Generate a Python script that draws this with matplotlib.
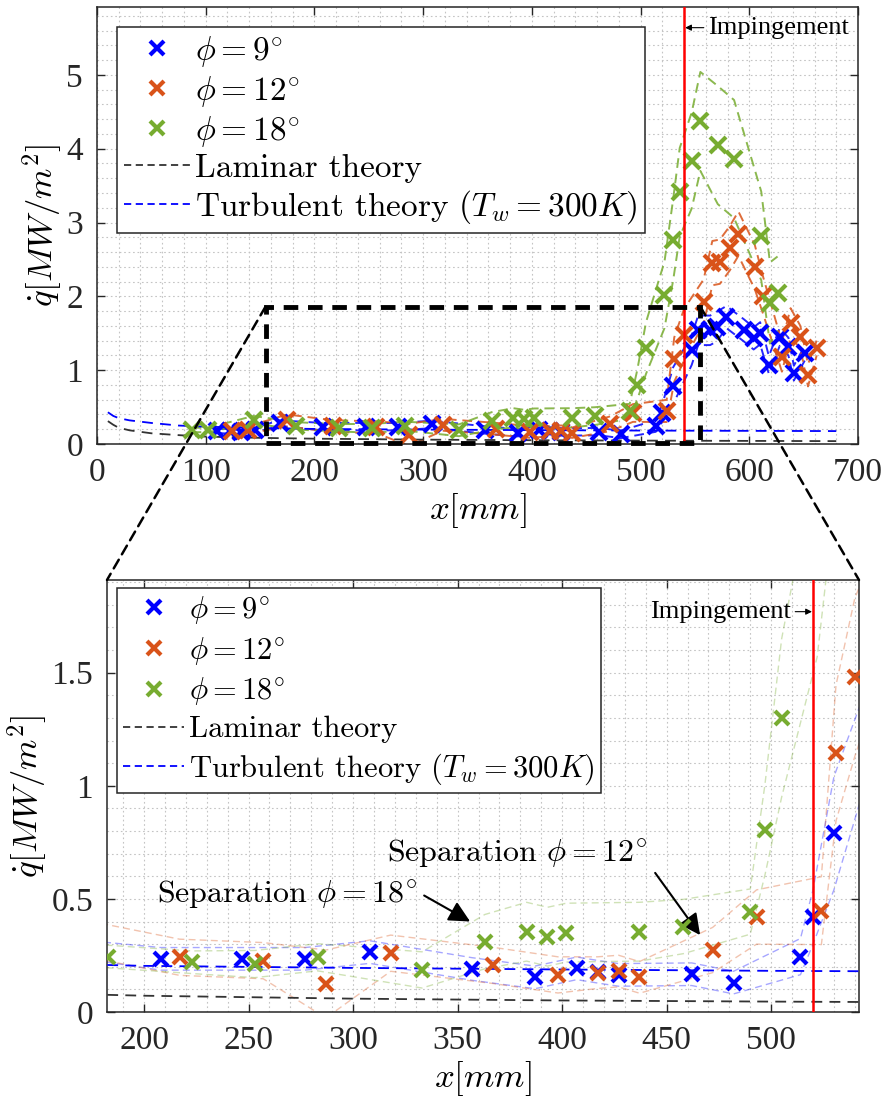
import numpy as np
import matplotlib
matplotlib.use("Agg")
import matplotlib.pyplot as plt
from matplotlib.patches import Rectangle, ConnectionPatch
from matplotlib.lines import Line2D
from matplotlib.ticker import MultipleLocator

plt.rcParams['font.family'] = 'serif'
plt.rcParams['font.serif'] = ['Liberation Serif', 'DejaVu Serif']
plt.rcParams['mathtext.fontset'] = 'cm'

# phi = 9 deg
x_9 = [110, 122, 132, 145, 168, 208, 247, 277, 308, 357, 387, 407, 417, 427, 462, 482,
       514, 520, 530, 547, 553, 564, 570, 579, 595, 604, 610, 618, 628, 636, 641, 651]
q_9 = [0.18, 0.17, 0.16, 0.19, 0.28, 0.235, 0.235, 0.235, 0.265, 0.19, 0.153, 0.193, 0.178, 0.164, 0.167, 0.13,
       0.245, 0.42, 0.79, 1.27, 1.54, 1.54, 1.59, 1.72, 1.54, 1.43, 1.50, 1.07, 1.45, 1.32, 0.96, 1.23]
err_9 = [0.03, 0.03, 0.03, 0.03, 0.04, 0.05, 0.05, 0.05, 0.05, 0.05, 0.05, 0.05, 0.05, 0.05, 0.05, 0.05,
         0.08, 0.12, 0.25, 0.2, 0.2, 0.2, 0.2, 0.15, 0.15, 0.15, 0.15, 0.12, 0.12, 0.12, 0.1, 0.1]

# phi = 12 deg
x_12 = [124, 139, 175, 217, 257, 287, 318, 367, 398, 417, 427, 437, 472, 493, 524,
        531, 540, 558, 566, 573, 582, 590, 605, 613, 630, 638, 647, 654, 662]
q_12 = [0.17, 0.19, 0.32, 0.242, 0.227, 0.124, 0.26, 0.206, 0.164, 0.174, 0.181, 0.153, 0.274, 0.42, 0.448,
        1.145, 1.48, 1.93, 2.45, 2.47, 2.65, 2.85, 2.40, 2.0, 1.18, 1.64, 1.45, 0.93, 1.30]
err_12 = [0.04, 0.05, 0.08, 0.08, 0.08, 0.15, 0.08, 0.08, 0.08, 0.07, 0.07, 0.07, 0.1, 0.12, 0.15,
          0.3, 0.35, 0.3, 0.3, 0.3, 0.3, 0.3, 0.3, 0.25, 0.2, 0.2, 0.15, 0.15, 0.1]

# phi = 18 deg
x_18 = [87, 102, 144, 183, 223, 253, 283, 333, 363, 383, 393, 402, 437, 458,
        490, 497, 505, 522, 530, 536, 547, 555, 571, 586, 611, 619, 626]
q_18 = [0.19, 0.19, 0.33, 0.245, 0.22, 0.212, 0.242, 0.186, 0.311, 0.355, 0.333, 0.351, 0.355, 0.378,
        0.444, 0.805, 1.3, 2.02, 2.77, 3.41, 3.84, 4.37, 4.05, 3.86, 2.82, 1.91, 2.04]
err_18 = [0.03, 0.03, 0.05, 0.05, 0.05, 0.06, 0.06, 0.08, 0.12, 0.13, 0.13, 0.13, 0.13, 0.12,
          0.1, 0.2, 0.35, 0.45, 0.55, 0.6, 0.65, 0.67, 0.8, 0.8, 0.6, 0.55, 0.5]

# theory curves
x_theory = [10, 15, 20, 30, 50, 75, 100, 150, 200, 300, 400, 500, 600, 680]
q_laminar = [0.31, 0.26, 0.22, 0.185, 0.145, 0.12, 0.10, 0.083, 0.072, 0.059, 0.051, 0.046, 0.042, 0.039]
q_turbulent = [0.43, 0.38, 0.35, 0.32, 0.285, 0.25, 0.235, 0.215, 0.204, 0.195, 0.188, 0.182, 0.178, 0.175]

x_imp_full = 540
x_imp_zoom = 520
zoom_x = [155, 555]
zoom_q = 1.86

blue = (0, 0, 1)
orange = (0.85, 0.325, 0.098)
green = (0.466, 0.674, 0.188)

series = [
    (x_9, q_9, err_9, blue, r'$\phi = 9^{\circ}$'),
    (x_12, q_12, err_12, orange, r'$\phi = 12^{\circ}$'),
    (x_18, q_18, err_18, green, r'$\phi = 18^{\circ}$'),
]


def draw_data(ax, env_lw, env_alpha, ms):
    for xs, qs, es, col, lab in series:
        xs = np.array(xs)
        qs = np.array(qs)
        es = np.array(es)
        ax.plot(xs, qs + es, ls=(0, (5, 3)), color=col, lw=env_lw, alpha=env_alpha)
        ax.plot(xs, qs - es, ls=(0, (5, 3)), color=col, lw=env_lw, alpha=env_alpha)
    for xs, qs, es, col, lab in series:
        ax.plot(xs, qs, ls='none', marker='x', ms=ms, mew=3, color=col, zorder=4)
    ax.plot(x_theory, q_laminar, ls=(0, (6, 4)), color='#333333', lw=1.3, zorder=3)
    ax.plot(x_theory, q_turbulent, ls=(0, (6, 4)), color=blue, lw=1.3, zorder=3)


def style_axes(ax, xminor, yminor):
    ax.xaxis.set_minor_locator(MultipleLocator(xminor))
    ax.yaxis.set_minor_locator(MultipleLocator(yminor))
    ax.grid(which='both', ls=(0, (1.5, 2.5)), color='#c4c4c4', lw=0.8)
    ax.set_axisbelow(True)
    ax.tick_params(which='major', direction='in', top=True, right=True, length=6,
                   width=1, labelsize=24, pad=10, colors='#262626')
    ax.tick_params(which='minor', length=0)
    for sp in ax.spines.values():
        sp.set_linewidth(1.1)
        sp.set_color('#262626')


def add_legend(ax, fig, left_px, top_px, size, spacing):
    handles = [Line2D([], [], color=c, marker='x', ls='none', ms=10, mew=3) for _, _, _, c, _ in series]
    handles.append(Line2D([], [], color='#333333', ls=(0, (4, 2.5)), lw=1.3))
    handles.append(Line2D([], [], color=blue, ls=(0, (4, 2.5)), lw=1.3))
    labels = [s[4] for s in series] + ['Laminar theory', r'Turbulent theory $(T_w = 300K)$']
    leg = ax.legend(handles, labels, loc='upper left',
                    bbox_to_anchor=(left_px / 886, 1 - top_px / 1104),
                    bbox_transform=fig.transFigure, borderaxespad=0,
                    prop={'family': 'cmr10', 'size': size},
                    handlelength=2.0, handletextpad=0.15,
                    labelspacing=spacing, borderpad=0.2, fancybox=False,
                    framealpha=1, edgecolor='#262626')
    leg.get_frame().set_linewidth(1.1)
    return leg


fig = plt.figure(figsize=(8.86, 11.04), dpi=100)
ax1 = fig.add_axes([97 / 886, 1 - 444 / 1104, 761 / 886, 437 / 1104])
ax2 = fig.add_axes([107 / 886, 1 - 1012 / 1104, 752 / 886, 432 / 1104])

# full view
draw_data(ax1, 1.4, 0.85, 11)
ax1.axvline(x_imp_full, color='red', lw=1.8, zorder=5)
ax1.set_xlim(0, 700)
ax1.set_ylim(0, 5.92)
ax1.set_xticks([0, 100, 200, 300, 400, 500, 600, 700])
ax1.set_yticks([0, 1, 2, 3, 4, 5])
style_axes(ax1, 20, 0.2)
ax1.set_xlabel(r'$x[mm]$', fontsize=25, labelpad=2)
ax1.set_ylabel(r'$\dot{q}[MW/m^2]$', fontsize=25, labelpad=2)
add_legend(ax1, fig, 117, 27, 24, 0.15)
ax1.annotate('Impingement', xy=(x_imp_full + 1, 5.64), xytext=(562, 5.64),
             ha='left', va='center', fontsize=19,
             arrowprops=dict(arrowstyle='-|>', color='black', lw=0.8,
                             mutation_scale=9, shrinkA=1, shrinkB=0))
box = Rectangle((zoom_x[0], 0.01), zoom_x[1] - zoom_x[0], zoom_q - 0.01, fill=False,
                ls=(0, (3, 2)), lw=3.5, edgecolor='black', zorder=6, clip_on=False)
ax1.add_patch(box)

# zoomed view
draw_data(ax2, 1.0, 0.35, 10)
ax2.axvline(x_imp_zoom, color='red', lw=1.8, zorder=5)
ax2.set_xlim(182.3, 542)
ax2.set_ylim(0, 1.91)
ax2.set_xticks([200, 250, 300, 350, 400, 450, 500])
ax2.set_yticks([0, 0.5, 1, 1.5], ['0', '0.5', '1', '1.5'])
style_axes(ax2, 10, 0.1)
ax2.set_xlabel(r'$x[mm]$', fontsize=25, labelpad=2)
ax2.set_ylabel(r'$\dot{q}[MW/m^2]$', fontsize=25, labelpad=2)
add_legend(ax2, fig, 117, 588, 22, 0.28)
ax2.annotate('Impingement', xy=(x_imp_zoom - 0.5, 1.77), xytext=(509.5, 1.77),
             ha='right', va='center', fontsize=19,
             arrowprops=dict(arrowstyle='-|>', color='black', lw=0.8,
                             mutation_scale=9, shrinkA=1, shrinkB=0))

# separation labels and arrows
sep_font = {'family': 'cmr10', 'size': 23}
ax2.text(206, 0.52, r'Separation $\phi = 18^{\circ}$', ha='left', va='center', fontdict=sep_font)
ax2.annotate('', xy=(356, 0.40), xytext=(334, 0.515),
             arrowprops=dict(arrowstyle='-|>', color='black', lw=1.5,
                             mutation_scale=32, shrinkA=0, shrinkB=0))
ax2.text(316, 0.70, r'Separation $\phi = 12^{\circ}$', ha='left', va='center', fontdict=sep_font)
ax2.annotate('', xy=(466, 0.34), xytext=(444.5, 0.615),
             arrowprops=dict(arrowstyle='-|>', color='black', lw=1.5,
                             mutation_scale=32, shrinkA=0, shrinkB=0))

# zoom connectors
for xa, xb in [(zoom_x[0], 0), (zoom_x[1], 1)]:
    con = ConnectionPatch(xyA=(xa, zoom_q), coordsA=ax1.transData,
                          xyB=(xb, 1), coordsB=ax2.transAxes,
                          ls=(0, (4, 2.5)), lw=1.8, color='black')
    fig.add_artist(con)

fig.savefig('out.png', dpi=100)
